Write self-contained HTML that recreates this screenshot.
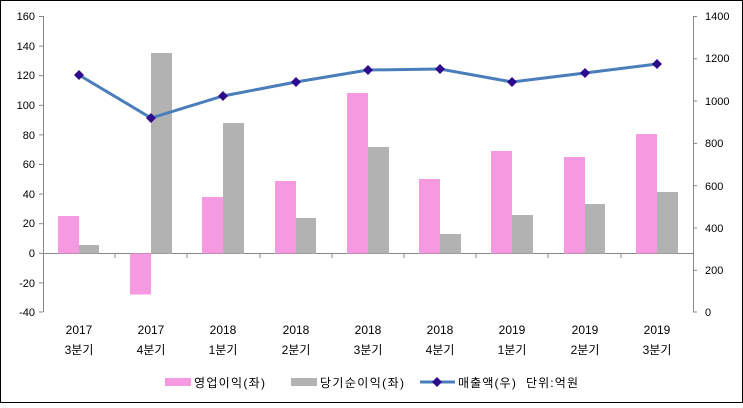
<!DOCTYPE html>
<html><head><meta charset="utf-8"><style>
body{margin:0;background:#fff}
svg text{font-family:"Liberation Sans","Noto Sans CJK KR",sans-serif;font-size:11px;fill:#000}
svg text.c{font-size:12px}
</style></head><body>
<svg width="743" height="403" xmlns="http://www.w3.org/2000/svg">
<rect x="0.5" y="0.5" width="742" height="402" fill="#fff" stroke="#000"/>
<g stroke="#888" stroke-width="1">
<line x1="43.5" y1="16" x2="43.5" y2="312"/>
<line x1="693.5" y1="16" x2="693.5" y2="312"/>
<line x1="43" y1="253.5" x2="693" y2="253.5"/>
<line x1="39" y1="16.5" x2="43" y2="16.5"/><line x1="39" y1="46.1" x2="43" y2="46.1"/><line x1="39" y1="75.7" x2="43" y2="75.7"/><line x1="39" y1="105.3" x2="43" y2="105.3"/><line x1="39" y1="134.9" x2="43" y2="134.9"/><line x1="39" y1="164.5" x2="43" y2="164.5"/><line x1="39" y1="194.1" x2="43" y2="194.1"/><line x1="39" y1="223.7" x2="43" y2="223.7"/><line x1="39" y1="253.3" x2="43" y2="253.3"/><line x1="39" y1="282.9" x2="43" y2="282.9"/><line x1="39" y1="312" x2="43" y2="312"/>
<line x1="693" y1="16.5" x2="697" y2="16.5"/><line x1="693" y1="58.8" x2="697" y2="58.8"/><line x1="693" y1="101.1" x2="697" y2="101.1"/><line x1="693" y1="143.4" x2="697" y2="143.4"/><line x1="693" y1="185.7" x2="697" y2="185.7"/><line x1="693" y1="228" x2="697" y2="228"/><line x1="693" y1="270.3" x2="697" y2="270.3"/><line x1="693" y1="312" x2="697" y2="312"/>
<line x1="115" y1="253" x2="115" y2="258"/><line x1="187" y1="253" x2="187" y2="258"/><line x1="260" y1="253" x2="260" y2="258"/><line x1="332" y1="253" x2="332" y2="258"/><line x1="404" y1="253" x2="404" y2="258"/><line x1="476" y1="253" x2="476" y2="258"/><line x1="548" y1="253" x2="548" y2="258"/><line x1="621" y1="253" x2="621" y2="258"/>
</g>
<g text-anchor="end">
<text x="35" y="20">160</text><text x="35" y="50">140</text><text x="35" y="79">120</text><text x="35" y="109">100</text><text x="35" y="139">80</text><text x="35" y="168">60</text><text x="35" y="198">40</text><text x="35" y="227">20</text><text x="35" y="257">0</text><text x="35" y="287">-20</text><text x="35" y="316">-40</text>
</g>
<g text-anchor="start">
<text x="705" y="20">1400</text><text x="705" y="62">1200</text><text x="705" y="105">1000</text><text x="705" y="147">800</text><text x="705" y="190">600</text><text x="705" y="232">400</text><text x="705" y="274">200</text><text x="705" y="316">0</text>
</g>
<g fill="#f799e0">
<rect x="58" y="216" width="21" height="37.5"/>
<rect x="130" y="253.5" width="21" height="41"/>
<rect x="202" y="197" width="21" height="56.5"/>
<rect x="275" y="181" width="21" height="72.5"/>
<rect x="347" y="93" width="21" height="160.5"/>
<rect x="419" y="179" width="21" height="74.5"/>
<rect x="491" y="151" width="21" height="102.5"/>
<rect x="564" y="157" width="21" height="96.5"/>
<rect x="636" y="134" width="21" height="119.5"/>
</g>
<g fill="#b2b2b2">
<rect x="79" y="245" width="20" height="8.5"/>
<rect x="151" y="53" width="21" height="200.5"/>
<rect x="223" y="123" width="21" height="130.5"/>
<rect x="296" y="218" width="20" height="35.5"/>
<rect x="368" y="147" width="21" height="106.5"/>
<rect x="440" y="234" width="21" height="19.5"/>
<rect x="512" y="215" width="21" height="38.5"/>
<rect x="585" y="204" width="20" height="49.5"/>
<rect x="657" y="192" width="21" height="61.5"/>
</g>
<polyline points="79,75 151,118 223,96 296,82 368,70 440,69 512,82 585,73 657,64" fill="none" stroke="#4a7ebb" stroke-width="3"/>
<g fill="#2e0a8c">
<path d="M79,70 l5,5 -5,5 -5,-5z"/><path d="M151,113 l5,5 -5,5 -5,-5z"/><path d="M223,91 l5,5 -5,5 -5,-5z"/><path d="M296,77 l5,5 -5,5 -5,-5z"/><path d="M368,65 l5,5 -5,5 -5,-5z"/><path d="M440,64 l5,5 -5,5 -5,-5z"/><path d="M512,77 l5,5 -5,5 -5,-5z"/><path d="M585,68 l5,5 -5,5 -5,-5z"/><path d="M657,59 l5,5 -5,5 -5,-5z"/>
</g>
<g text-anchor="middle">
<text class="c" x="79" y="334">2017</text><text class="c" x="79" y="354">3분기</text>
<text class="c" x="151" y="334">2017</text><text class="c" x="151" y="354">4분기</text>
<text class="c" x="223" y="334">2018</text><text class="c" x="223" y="354">1분기</text>
<text class="c" x="296" y="334">2018</text><text class="c" x="296" y="354">2분기</text>
<text class="c" x="368" y="334">2018</text><text class="c" x="368" y="354">3분기</text>
<text class="c" x="440" y="334">2018</text><text class="c" x="440" y="354">4분기</text>
<text class="c" x="512" y="334">2019</text><text class="c" x="512" y="354">1분기</text>
<text class="c" x="585" y="334">2019</text><text class="c" x="585" y="354">2분기</text>
<text class="c" x="657" y="334">2019</text><text class="c" x="657" y="354">3분기</text>
</g>
<rect x="165" y="378" width="26" height="8" fill="#f799e0"/>
<text class="c" x="194" y="387" textLength="71">영업이익(좌)</text>
<rect x="291" y="378" width="26" height="8" fill="#b2b2b2"/>
<text class="c" x="320" y="387" textLength="84">당기순이익(좌)</text>
<line x1="420" y1="382" x2="455" y2="382" stroke="#4a7ebb" stroke-width="3"/>
<path d="M437,377 l5,5 -5,5 -5,-5z" fill="#2e0a8c"/>
<text class="c" x="458" y="387" textLength="120">매출액(우)&#160;&#160;단위:억원</text>
</svg>
</body></html>
